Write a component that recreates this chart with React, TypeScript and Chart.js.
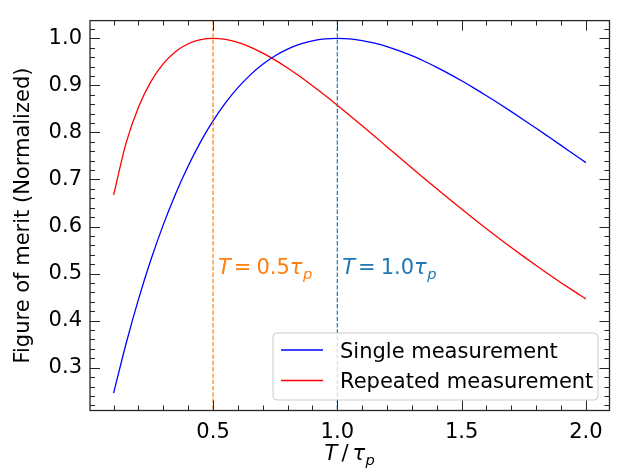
import React, { useEffect, useRef } from 'react';
import { Chart, registerables } from 'chart.js';

Chart.register(...registerables);

// ---- data ----
const tValues = [
  0.1, 0.15, 0.2, 0.25, 0.3, 0.35, 0.4, 0.45, 0.5, 0.55, 0.6, 0.65, 0.7, 0.75, 0.8, 0.85, 0.9, 0.95, 1.0,
  1.05, 1.1, 1.15, 1.2, 1.25, 1.3, 1.35, 1.4, 1.45, 1.5, 1.55, 1.6, 1.65, 1.7, 1.75, 1.8, 1.85, 1.9, 1.95, 2.0,
];
const singleMeasurement = [
  0.246, 0.3509, 0.4451, 0.5293, 0.6041, 0.6704, 0.7288, 0.78, 0.8244, 0.8626, 0.8951, 0.9224, 0.9449, 0.963,
  0.9771, 0.9876, 0.9947, 0.9987, 1.0, 0.9988, 0.9953, 0.9898, 0.9825, 0.9735, 0.9631, 0.9513, 0.9384, 0.9246,
  0.9098, 0.8943, 0.8781, 0.8614, 0.8442, 0.8266, 0.8088, 0.7907, 0.7725, 0.7541, 0.7358,
];
const repeatedMeasurement = [
  0.6672, 0.7773, 0.8537, 0.9079, 0.9461, 0.9721, 0.9885, 0.9973, 1.0, 0.9977, 0.9912, 0.9814, 0.9687, 0.9538,
  0.9371, 0.9188, 0.8993, 0.8789, 0.8578, 0.8361, 0.814, 0.7917, 0.7693, 0.7469, 0.7245, 0.7023, 0.6803, 0.6586,
  0.6372, 0.6161, 0.5955, 0.5752, 0.5554, 0.536, 0.5171, 0.4987, 0.4807, 0.4632, 0.4463,
];
const seriesLabels = ['Single measurement', 'Repeated measurement'];
const xTickValues = [0.5, 1.0, 1.5, 2.0];
const xTickLabels = ['0.5', '1.0', '1.5', '2.0'];
const yTickValues = [0.3, 0.4, 0.5, 0.6, 0.7, 0.8, 0.9, 1.0];
const yTickLabels = ['0.3', '0.4', '0.5', '0.6', '0.7', '0.8', '0.9', '1.0'];
const markerTimes = [0.5, 1.0];
const markerTexts = ['0.5', '1.0'];
const markerTextY = 0.5;

const FONT = '"DejaVu Sans", sans-serif';
const FS = 21;
const SERIES_COLORS = ['#0000ff', '#ff0000'];
const MARKER_COLORS = ['#ff7f0e', '#1f77b4'];

type Seg = { t: string; it?: boolean; sub?: boolean; gap?: number };

function drawMath(ctx: CanvasRenderingContext2D, segs: Seg[], x: number, y: number, color: string, align: 'left' | 'center') {
  const measure = () => {
    let w = 0;
    segs.forEach((s) => {
      const size = s.sub ? FS * 0.7 : FS;
      ctx.font = `${s.it ? 'italic ' : ''}${size}px ${FONT}`;
      w += (s.gap || 0) + ctx.measureText(s.t).width;
    });
    return w;
  };
  let cx = align === 'center' ? x - measure() / 2 : x;
  ctx.fillStyle = color;
  ctx.textAlign = 'left';
  ctx.textBaseline = 'alphabetic';
  segs.forEach((s) => {
    const size = s.sub ? FS * 0.7 : FS;
    ctx.font = `${s.it ? 'italic ' : ''}${size}px ${FONT}`;
    cx += s.gap || 0;
    ctx.fillText(s.t, cx, y + (s.sub ? 5 : 0));
    cx += ctx.measureText(s.t).width;
  });
}

const decorPlugin = {
  id: 'decor',
  afterDatasetsDraw(chart: any) {
    const { ctx, chartArea: a, scales } = chart;
    const xs = scales.x;
    const ys = scales.y;
    ctx.save();

    // vertical dashed markers
    markerTimes.forEach((v, i) => {
      const px = xs.getPixelForValue(v);
      ctx.strokeStyle = MARKER_COLORS[i];
      ctx.lineWidth = 1.2;
      ctx.setLineDash([4.4, 1.9]);
      ctx.beginPath();
      ctx.moveTo(px, a.top);
      ctx.lineTo(px, a.bottom);
      ctx.stroke();
    });
    ctx.setLineDash([]);

    // marker annotations
    markerTimes.forEach((v, i) => {
      const px = xs.getPixelForValue(v + 0.02);
      const py = ys.getPixelForValue(markerTextY);
      drawMath(
        ctx,
        [
          { t: 'T', it: true },
          { t: '=', gap: 3 },
          { t: markerTexts[i], gap: 5 },
          { t: 'τ', it: true },
          { t: 'p', it: true, sub: true, gap: 0.5 },
        ],
        px,
        py,
        MARKER_COLORS[i],
        'left'
      );
    });

    // legend
    const lx0 = 273, ly0 = 333, lx1 = 598, ly1 = 400, r = 4;
    ctx.beginPath();
    ctx.moveTo(lx0 + r, ly0);
    ctx.lineTo(lx1 - r, ly0);
    ctx.quadraticCurveTo(lx1, ly0, lx1, ly0 + r);
    ctx.lineTo(lx1, ly1 - r);
    ctx.quadraticCurveTo(lx1, ly1, lx1 - r, ly1);
    ctx.lineTo(lx0 + r, ly1);
    ctx.quadraticCurveTo(lx0, ly1, lx0, ly1 - r);
    ctx.lineTo(lx0, ly0 + r);
    ctx.quadraticCurveTo(lx0, ly0, lx0 + r, ly0);
    ctx.closePath();
    ctx.fillStyle = 'rgba(255,255,255,0.8)';
    ctx.fill();
    ctx.strokeStyle = '#cccccc';
    ctx.lineWidth = 1;
    ctx.stroke();
    seriesLabels.forEach((lab, i) => {
      const yy = 350 + i * 30.5;
      ctx.strokeStyle = SERIES_COLORS[i];
      ctx.lineWidth = 1.3;
      ctx.beginPath();
      ctx.moveTo(281, yy);
      ctx.lineTo(323, yy);
      ctx.stroke();
      ctx.fillStyle = '#000';
      ctx.font = `${FS}px ${FONT}`;
      ctx.textAlign = 'left';
      ctx.textBaseline = 'alphabetic';
      ctx.fillText(lab, 340, yy + 7.5);
    });

    // spines
    ctx.strokeStyle = '#262626';
    ctx.lineWidth = 1.3;
    ctx.strokeRect(a.left, a.top, a.right - a.left, a.bottom - a.top);

    // ticks (inward, all sides)
    ctx.strokeStyle = '#262626';
    ctx.lineWidth = 1;
    const tickX = (v: number, len: number) => {
      const px = Math.round(xs.getPixelForValue(v)) + 0.5;
      ctx.beginPath();
      ctx.moveTo(px, a.bottom);
      ctx.lineTo(px, a.bottom - len);
      ctx.moveTo(px, a.top);
      ctx.lineTo(px, a.top + len);
      ctx.stroke();
    };
    const tickY = (v: number, len: number) => {
      const py = Math.round(ys.getPixelForValue(v)) + 0.5;
      ctx.beginPath();
      ctx.moveTo(a.left, py);
      ctx.lineTo(a.left + len, py);
      ctx.moveTo(a.right, py);
      ctx.lineTo(a.right - len, py);
      ctx.stroke();
    };
    for (let k = 1; k <= 20; k++) {
      const v = k / 10;
      if (k % 5 === 0) tickX(v, 10);
      else tickX(v, 5);
    }
    for (let k = 11; k <= 51; k++) {
      const v = k / 50;
      if (v < ys.min || v > ys.max) continue;
      if (k % 5 === 0) tickY(v, 10);
      else tickY(v, 5);
    }

    // x title
    drawMath(
      ctx,
      [
        { t: 'T', it: true },
        { t: '/', gap: 4 },
        { t: 'τ', it: true, gap: 4 },
        { t: 'p', it: true, sub: true, gap: 0.5 },
      ],
      (a.left + a.right) / 2,
      460,
      '#000',
      'center'
    );

    ctx.restore();
  },
};

export default function App() {
  const ref = useRef<HTMLCanvasElement | null>(null);
  useEffect(() => {
    document.body.style.margin = '0';
    const canvas = ref.current!;
    const chart = new Chart(canvas, {
      type: 'line',
      data: {
        datasets: [
          {
            label: seriesLabels[0],
            data: tValues.map((t, i) => ({ x: t, y: singleMeasurement[i] })),
            borderColor: SERIES_COLORS[0],
            borderWidth: 1.3,
            pointRadius: 0,
            fill: false,
            cubicInterpolationMode: 'monotone',
          },
          {
            label: seriesLabels[1],
            data: tValues.map((t, i) => ({ x: t, y: repeatedMeasurement[i] })),
            borderColor: SERIES_COLORS[1],
            borderWidth: 1.3,
            pointRadius: 0,
            fill: false,
            cubicInterpolationMode: 'monotone',
          },
        ],
      },
      options: {
        responsive: false,
        animation: false,
        devicePixelRatio: 1,
        layout: { padding: { top: 5.5, right: 9.5, left: 0, bottom: 0 } },
        plugins: { legend: { display: false }, tooltip: { enabled: false } },
        scales: {
          x: {
            type: 'linear',
            min: 0.005,
            max: 2.095,
            grid: { display: false, drawTicks: false },
            border: { display: false },
            afterBuildTicks: (s: any) => {
              s.ticks = xTickValues.map((v) => ({ value: v }));
            },
            afterFit: (s: any) => {
              s.height = 58.5;
            },
            ticks: {
              autoSkip: false,
              maxRotation: 0,
              padding: 9,
              color: '#000',
              font: { family: FONT, size: FS },
              callback: (v: any) => {
                const i = xTickValues.indexOf(Number(v));
                return i >= 0 ? xTickLabels[i] : '';
              },
            },
          },
          y: {
            type: 'linear',
            min: 0.209,
            max: 1.0377,
            grid: { display: false, drawTicks: false },
            border: { display: false },
            afterBuildTicks: (s: any) => {
              s.ticks = yTickValues.map((v) => ({ value: v }));
            },
            afterFit: (s: any) => {
              s.width = 90;
            },
            title: {
              display: true,
              text: 'Figure of merit (Normalized)',
              color: '#000',
              font: { family: FONT, size: FS },
              padding: { top: 11, bottom: 0 },
            },
            ticks: {
              autoSkip: false,
              padding: 8,
              color: '#000',
              font: { family: FONT, size: FS },
              callback: (v: any) => {
                const i = yTickValues.findIndex((t) => Math.abs(t - Number(v)) < 1e-9);
                return i >= 0 ? yTickLabels[i] : '';
              },
            },
          },
        },
      },
      plugins: [decorPlugin],
    });
    return () => chart.destroy();
  }, []);
  return (
    <div style={{ position: 'absolute', left: 0, top: 0, width: 619, height: 469 }}>
      <canvas ref={ref} width={619} height={469} />
    </div>
  );
}
